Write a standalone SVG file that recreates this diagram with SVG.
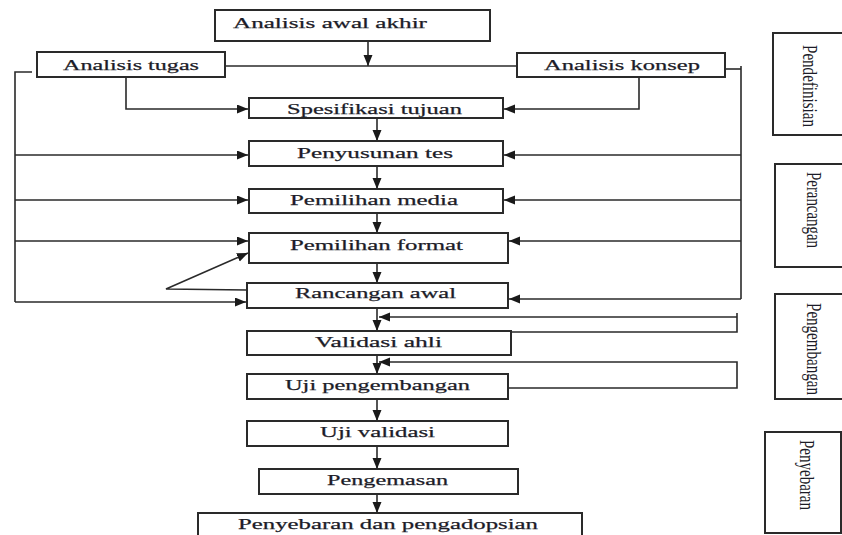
<svg xmlns="http://www.w3.org/2000/svg" width="842" height="535" viewBox="0 0 842 535">
<defs>
<style>
.box{fill:#fff;stroke:#2a2a2a;stroke-width:2}
.ln{fill:none;stroke:#2a2a2a;stroke-width:1.6}
.t{font-family:"Liberation Serif","Times New Roman",serif;font-size:15.5px;fill:#1c1c28;stroke:#1c1c28;stroke-width:0.25}
.s{font-family:"Liberation Serif","Times New Roman",serif;font-size:21px;fill:#1c1c28}
</style>
<marker id="ah" markerUnits="userSpaceOnUse" markerWidth="12" markerHeight="10" refX="11" refY="4.5" orient="auto">
<path d="M0,0 L11,4.5 L0,9 Z" fill="#1a1a1a"/>
</marker>
</defs>
<rect width="842" height="535" fill="#fff"/>
<g id="connectors">
<line class="ln" x1="368" y1="41" x2="368" y2="66" marker-end="url(#ah)"/>
<line class="ln" x1="225" y1="66" x2="517" y2="66"/>
<polyline class="ln" points="126,77 126,109 248,109" marker-end="url(#ah)"/>
<polyline class="ln" points="639,77 639,109 504,109" marker-end="url(#ah)"/>
<line class="ln" x1="377" y1="118" x2="377" y2="141" marker-end="url(#ah)"/>
<line class="ln" x1="377" y1="166" x2="377" y2="189" marker-end="url(#ah)"/>
<line class="ln" x1="377" y1="213" x2="377" y2="233" marker-end="url(#ah)"/>
<line class="ln" x1="377" y1="263" x2="377" y2="283" marker-end="url(#ah)"/>
<line class="ln" x1="377" y1="308" x2="377" y2="331" marker-end="url(#ah)"/>
<line class="ln" x1="377" y1="355" x2="377" y2="374" marker-end="url(#ah)"/>
<line class="ln" x1="377" y1="399" x2="377" y2="421" marker-end="url(#ah)"/>
<line class="ln" x1="377" y1="446" x2="377" y2="469" marker-end="url(#ah)"/>
<line class="ln" x1="377" y1="494" x2="377" y2="513" marker-end="url(#ah)"/>
<polyline class="ln" points="32,72 15,72 15,302"/>
<line class="ln" x1="15" y1="155" x2="248" y2="155" marker-end="url(#ah)"/>
<line class="ln" x1="15" y1="200" x2="248" y2="200" marker-end="url(#ah)"/>
<line class="ln" x1="15" y1="241" x2="248" y2="241" marker-end="url(#ah)"/>
<line class="ln" x1="15" y1="302" x2="246" y2="302" marker-end="url(#ah)"/>
<polyline class="ln" points="725,69 741,69"/>
<line class="ln" x1="741" y1="66" x2="741" y2="299"/>
<line class="ln" x1="741" y1="155" x2="504" y2="155" marker-end="url(#ah)"/>
<line class="ln" x1="741" y1="200" x2="504" y2="200" marker-end="url(#ah)"/>
<line class="ln" x1="741" y1="241" x2="509" y2="241" marker-end="url(#ah)"/>
<line class="ln" x1="741" y1="299" x2="509" y2="299" marker-end="url(#ah)"/>
<polyline class="ln" points="247,290 166,289 248,253" marker-end="url(#ah)"/>
<polyline class="ln" points="511,332 737,332 737,313"/>
<line class="ln" x1="737" y1="317" x2="379" y2="317" marker-end="url(#ah)"/>
<polyline class="ln" points="508,388 737,388 737,362 379,362" marker-end="url(#ah)"/>
</g>
<g id="n-awal"><rect class="box" x="215" y="10" width="275" height="31"/><text class="t" x="233" y="28" textLength="194" lengthAdjust="spacingAndGlyphs">Analisis awal akhir</text></g>
<g id="n-tugas"><rect class="box" x="37" y="52" width="188" height="25"/><text class="t" x="63" y="70" textLength="136" lengthAdjust="spacingAndGlyphs">Analisis tugas</text></g>
<g id="n-konsep"><rect class="box" x="517" y="53" width="208" height="24"/><text class="t" x="544" y="70" textLength="156" lengthAdjust="spacingAndGlyphs">Analisis konsep</text></g>
<g id="n-spesifikasi"><rect class="box" x="249" y="98" width="254" height="20"/><text class="t" x="287" y="114" textLength="175" lengthAdjust="spacingAndGlyphs">Spesifikasi tujuan</text></g>
<g id="n-penyusunan"><rect class="box" x="249" y="141" width="254" height="25"/><text class="t" x="297" y="158" textLength="156" lengthAdjust="spacingAndGlyphs">Penyusunan tes</text></g>
<g id="n-media"><rect class="box" x="249" y="189" width="254" height="24"/><text class="t" x="290" y="205" textLength="168" lengthAdjust="spacingAndGlyphs">Pemilihan media</text></g>
<g id="n-format"><rect class="box" x="249" y="233" width="259" height="30"/><text class="t" x="290" y="250" textLength="173" lengthAdjust="spacingAndGlyphs">Pemilihan format</text></g>
<g id="n-rancangan"><rect class="box" x="247" y="283" width="261" height="25"/><text class="t" x="295" y="298" textLength="161" lengthAdjust="spacingAndGlyphs">Rancangan  awal</text></g>
<g id="n-validasi-ahli"><rect class="box" x="247" y="331" width="264" height="24"/><text class="t" x="315" y="347" textLength="127" lengthAdjust="spacingAndGlyphs">Validasi  ahli</text></g>
<g id="n-uji-pengembangan"><rect class="box" x="247" y="374" width="261" height="25"/><text class="t" x="285" y="390" textLength="185" lengthAdjust="spacingAndGlyphs">Uji pengembangan</text></g>
<g id="n-uji-validasi"><rect class="box" x="247" y="421" width="261" height="25"/><text class="t" x="320" y="437" textLength="115" lengthAdjust="spacingAndGlyphs">Uji validasi</text></g>
<g id="n-pengemasan"><rect class="box" x="259" y="469" width="259" height="25"/><text class="t" x="327" y="485" textLength="121" lengthAdjust="spacingAndGlyphs">Pengemasan</text></g>
<g id="n-penyebaran"><rect class="box" x="198" y="513" width="384" height="32"/><text class="t" x="238" y="529" textLength="300" lengthAdjust="spacingAndGlyphs">Penyebaran  dan  pengadopsian</text></g>
<g id="s-pendefinisian"><rect class="box" x="773" y="33" width="75" height="102"/><text class="s" transform="translate(803,45) rotate(90)" x="0" y="0" textLength="82" lengthAdjust="spacingAndGlyphs">Pendefinisian</text></g>
<g id="s-perancangan"><rect class="box" x="775" y="164" width="73" height="103"/><text class="s" transform="translate(807,172) rotate(90)" x="0" y="0" textLength="76" lengthAdjust="spacingAndGlyphs">Perancangan</text></g>
<g id="s-pengembangan"><rect class="box" x="775" y="294" width="73" height="105"/><text class="s" transform="translate(807,303) rotate(90)" x="0" y="0" textLength="92" lengthAdjust="spacingAndGlyphs">Pengembangan</text></g>
<g id="s-penyebaran"><rect class="box" x="765" y="432" width="76" height="101"/><text class="s" transform="translate(800,440) rotate(90)" x="0" y="0" textLength="70" lengthAdjust="spacingAndGlyphs">Penyebaran</text></g>
</svg>
